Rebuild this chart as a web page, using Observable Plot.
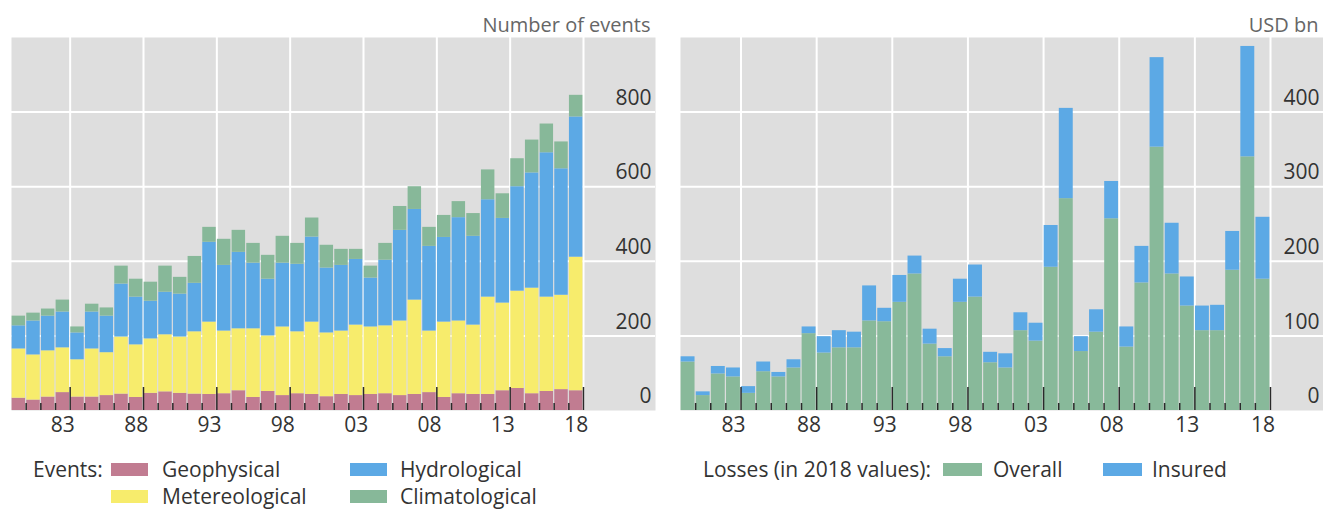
<!DOCTYPE html>
<html><head><meta charset="utf-8">
<script src="https://cdn.jsdelivr.net/npm/d3@7"></script>
<script src="https://cdn.jsdelivr.net/npm/@observablehq/plot@0.6"></script>
<style>
body{margin:0;background:#fff;font-family:"Open Sans",sans-serif;}
#wrap{position:relative;width:1323px;height:510px;overflow:hidden;background:#fff;}
#left,#right{position:absolute;top:0;}
#left{left:0}
#right{left:660px}
.lg{position:absolute;font-size:21px;color:#333;white-space:nowrap;line-height:24px;height:24px;}
.sw{position:absolute;width:37px;height:13px;}
</style></head><body>
<div id="wrap">
 <div id="left"></div><div id="right"></div>
</div>
<script>
// ---- data ----
const years = d3.range(1980, 2019);
const eventTypes = ["Geophysical", "Metereological", "Hydrological", "Climatological"];
const eventColors = ["#c17c91", "#f7ec6c", "#5ca9e5", "#87b899"];
const geophysical   = [33,28,36,48,36,36,40,44,35,46,50,46,44,43,45,53,35,51,40,45,43,37,43,40,43,45,40,43,48,35,45,43,43,53,59,45,51,56,53];
const meteorological= [132,121,124,120,100,129,115,153,141,146,153,151,167,194,168,166,184,149,184,166,194,171,170,189,181,182,200,253,165,202,195,186,261,235,261,283,253,253,358];
const hydrological  = [62,91,93,96,72,99,98,142,128,101,114,115,130,214,176,205,176,152,171,181,228,174,176,176,131,176,243,243,227,227,277,238,261,227,280,309,387,339,376];
const climatological= [26,21,19,32,16,21,22,48,48,51,70,45,72,40,70,59,53,64,72,56,51,61,43,27,32,45,64,61,51,59,43,61,80,66,75,88,77,72,58];
const lossTypes = ["Overall", "Insured"];
const lossColors = ["#88b99a", "#5ca9e5"];
const overall = [65,20,49,45,23,52,45,57,103,77,84,84,120,119,145,183,89,72,145,152,64,57,107,93,192,284,79,105,257,85,171,353,183,140,107,107,188,340,176];
const insured = [7,5,10,12,9,13,6,11,9,22,23,21,47,18,36,24,20,11,31,43,14,19,24,24,56,121,20,30,50,27,49,120,68,39,33,34,52,148,83];
const labelYears = [1983, 1988, 1993, 1998, 2003, 2008, 2013, 2018];
const eventTicks = [0, 200, 400, 600, 800];
const lossTicks = [0, 100, 200, 300, 400];

const eventSeries = [geophysical, meteorological, hydrological, climatological];
const eventsLong = years.flatMap((year, i) => eventTypes.map((type, j) => ({year, type, value: eventSeries[j][i]})));
const lossSeries = [overall, insured];
const lossLong = years.flatMap((year, i) => lossTypes.map((type, j) => ({year, type, value: lossSeries[j][i]})));

const boundaries = d3.range(1981, 2020);
const majorB = labelYears.map(y => y + 1);
const minorB = boundaries.filter(b => !majorB.includes(b));

const FONT = "Open Sans";
function panel({width, marginLeft, barRange, yMax, data, types, colors, ticks, title}) {
  return Plot.plot({
    width, height: 450,
    marginLeft, marginRight: width === 660 ? 5 : 0, marginTop: 37, marginBottom: 40,
    x: {type: "linear", domain: [1980, 2019], range: barRange, label: null, axis: null},
    y: {domain: [0, yMax], label: null, axis: null},
    color: {domain: types, range: colors},
    style: {fontFamily: FONT, background: "transparent", overflow: "visible"},
    marks: [
      Plot.frame({fill: "#dedede", stroke: null}),
      Plot.gridY(ticks.filter(t => t > 0), {stroke: "white", strokeOpacity: 1, strokeWidth: 2}),
      Plot.gridX(majorB, {stroke: "white", strokeOpacity: 1, strokeWidth: 2}),
      Plot.rectY(data, {x1: "year", x2: d => d.year + 1, y: "value", fill: "type", insetLeft: 0.6, insetRight: 0.6}),
      Plot.axisX(minorB, {tickSize: -7, fill: "none", stroke: "#2a2a2a", strokeWidth: 1.5, label: null}),
      Plot.axisX(majorB, {tickSize: -23, fill: "none", stroke: "#2a2a2a", strokeWidth: 1.5, label: null}),
      Plot.text(labelYears, {x: d => d + 0.5, text: d => String(d % 100).padStart(2, "0"), frameAnchor: "bottom", dy: 21, fontSize: 21, fill: "#333"}),
      Plot.text(ticks, {y: d => d, text: d => String(d), frameAnchor: "right", textAnchor: "end", dx: -4, dy: -14, fontSize: 21, fill: "#333"}),
      Plot.text([title], {text: d => d, frameAnchor: "top-right", textAnchor: "end", dx: -5, dy: -12, lineAnchor: "middle", fontSize: 20, fill: "#666"})
    ]
  });
}

document.getElementById("left").append(panel({
  width: 660, marginLeft: 11, barRange: [11, 583], yMax: 1000,
  data: eventsLong, types: eventTypes, colors: eventColors, ticks: eventTicks, title: "Number of events"
}));
document.getElementById("right").append(panel({
  width: 663, marginLeft: 20, barRange: [20, 610], yMax: 500,
  data: lossLong, types: lossTypes, colors: lossColors, ticks: lossTicks, title: "USD bn"
}));

// ---- legends ----
const wrap = document.getElementById("wrap");
function label(text, left, cy) {
  const s = document.createElement("div");
  s.className = "lg"; s.textContent = text;
  s.style.left = left + "px"; s.style.top = (cy - 12) + "px";
  wrap.append(s);
}
function swatch(color, left, cy, w = 37) {
  const s = document.createElement("div");
  s.className = "sw"; s.style.background = color;
  s.style.left = left + "px"; s.style.top = (cy - 6) + "px"; s.style.width = w + "px";
  wrap.append(s);
}
label("Events:", 33, 469);
const evPos = [[111, 162, 469], [111, 162, 496], [350, 400, 469], [350, 400, 496]];
eventTypes.forEach((t, i) => { swatch(eventColors[i], evPos[i][0], evPos[i][2]); label(t, evPos[i][1], evPos[i][2]); });
label("Losses (in 2018 values):", 703, 469);
const lossPos = [[943, 993], [1103, 1152]];
lossTypes.forEach((t, i) => { swatch(lossColors[i], lossPos[i][0], 469, 39); label(t, lossPos[i][1], 469); });
</script>
</body></html>
